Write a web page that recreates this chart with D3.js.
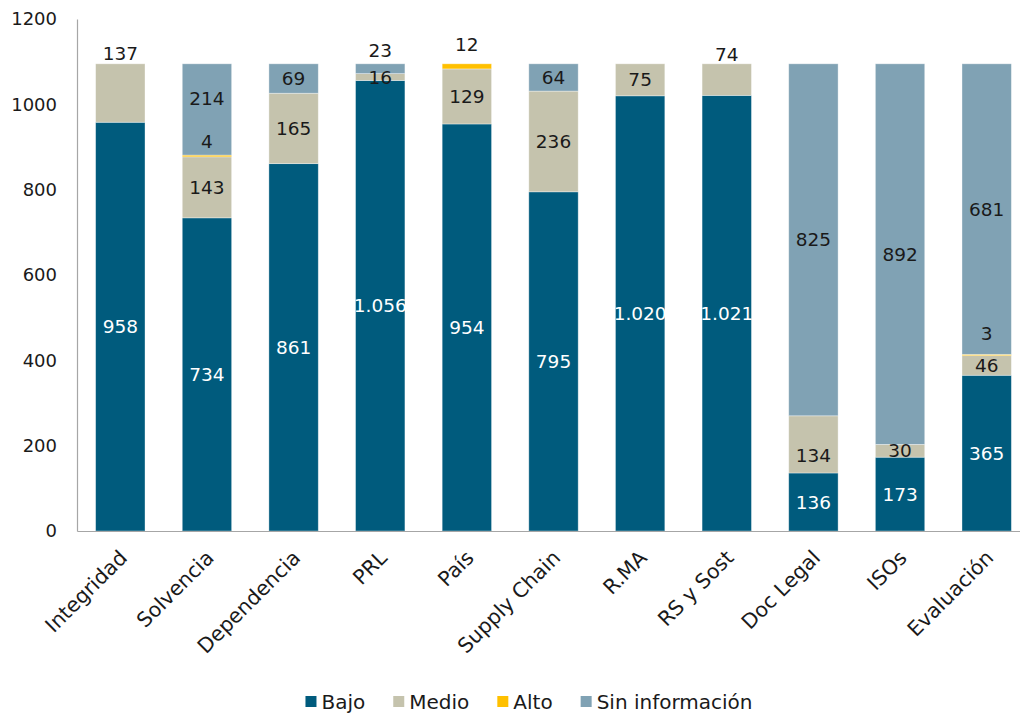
<!DOCTYPE html>
<html>
<head>
<meta charset="utf-8">
<script src="https://cdn.jsdelivr.net/npm/d3@7"></script>
<style>
  html, body { margin: 0; padding: 0; background: #ffffff; }
  svg { display: block; font-family: "DejaVu Sans", sans-serif; }
</style>
</head>
<body>
<svg id="chart" width="1020" height="715"></svg>
<script>
// Categories (x axis)
const categories = ["Integridad", "Solvencia", "Dependencia", "PRL", "País", "Supply Chain",
                    "R.MA", "RS y Sost", "Doc Legal", "ISOs", "Evaluación"];

// Series values, bottom to top
const bajo    = [958, 734, 861, 1056, 954, 795, 1020, 1021, 136, 173, 365];
const medio   = [137, 143, 165,   16, 129, 236,   75,   74, 134,  30,  46];
const alto    = [  0,   4,   0,    0,  12,   0,    0,    0,   0,   0,   3];
const sinInfo = [  0, 214,  69,   23,   0,  64,    0,    0, 825, 892, 681];

const seriesNames = ["Bajo", "Medio", "Alto", "Sin información"];
const seriesKeys  = ["bajo", "medio", "alto", "sin"];
const seriesColors = ["#005b7d", "#c5c3ad", "#ffc000", "#80a2b4"];
const labelColors  = ["#ffffff", "#1a1a1a", "#1a1a1a", "#1a1a1a"];

// Y axis ticks
const yTicks = [0, 200, 400, 600, 800, 1000, 1200];

// Labels that sit away from their segment centre (category, series, vertical shift in px)
const labelShifts = [
  ["Integridad", "medio", -40],
  ["Solvencia", "alto", -15],
  ["Solvencia", "sin", -11],
  ["PRL", "sin", -18],
  ["País", "alto", -22],
  ["RS y Sost", "medio", -25],
  ["Doc Legal", "medio", 11],
  ["Evaluación", "alto", -22]
];

const table = categories.map((c, i) => ({
  cat: c, bajo: bajo[i], medio: medio[i], alto: alto[i], sin: sinInfo[i]
}));

const svg = d3.select("#chart");
const margin = { left: 77, top: 19, bottom: 184 };
const plotRight = 1030;
const height = 715;
const y0 = height - margin.bottom;

const x = d3.scaleBand()
  .domain(categories)
  .range([margin.left, plotRight])
  .paddingInner(0.43)
  .paddingOuter(0.215);

const y = d3.scaleLinear()
  .domain([0, 1200])
  .range([y0, margin.top]);

const stack = d3.stack().keys(seriesKeys);
const stacked = stack(table);

const es = d3.formatLocale({ decimal: ",", thousands: ".", grouping: [3], currency: ["", "€"] });
const fmt = es.format(",d");

// Bars
const g = svg.append("g");
stacked.forEach((layer, si) => {
  g.selectAll(null)
    .data(layer.filter(d => d[1] - d[0] > 0))
    .enter().append("rect")
    .attr("x", d => x(d.data.cat))
    .attr("width", x.bandwidth())
    .attr("y", d => y(d[1]))
    .attr("height", d => y(d[0]) - y(d[1]))
    .attr("fill", seriesColors[si])
    .attr("stroke", "rgba(255,255,255,0.45)")
    .attr("stroke-width", 0.8);
});

// Axes
const yAxis = d3.axisLeft(y).tickValues(yTicks).tickSize(0).tickPadding(20).tickFormat(d3.format("d"));
const ya = svg.append("g").attr("transform", `translate(${margin.left},0)`).call(yAxis);
ya.select(".domain").attr("stroke", "#a6a6a6").attr("stroke-width", 1.2);
ya.selectAll("text").attr("font-size", 18).attr("fill", "#1a1a1a").attr("font-family", "DejaVu Sans");

const xAxis = d3.axisBottom(x).tickSize(0).tickPadding(0);
const xa = svg.append("g").attr("transform", `translate(0,${y0})`).call(xAxis);
xa.select(".domain").attr("stroke", "#a6a6a6").attr("stroke-width", 1.2);
xa.selectAll("text")
  .attr("font-size", 20.5)
  .attr("fill", "#1a1a1a")
  .attr("font-family", "DejaVu Sans")
  .attr("text-anchor", "end")
  .attr("dy", "0.35em")
  .attr("y", 0)
  .attr("transform", "translate(3,23) rotate(-45)");

// Value labels
const shiftOf = (cat, key) => {
  const s = labelShifts.find(r => r[0] === cat && r[1] === key);
  return s ? s[2] : 0;
};
stacked.forEach((layer, si) => {
  const key = seriesKeys[si];
  g.selectAll(null)
    .data(layer.filter(d => d[1] - d[0] > 0))
    .enter().append("text")
    .attr("x", d => x(d.data.cat) + x.bandwidth() / 2)
    .attr("y", d => (y(d[0]) + y(d[1])) / 2 + shiftOf(d.data.cat, key))
    .attr("dy", "0.36em")
    .attr("text-anchor", "middle")
    .attr("font-size", 18.5)
    .attr("fill", labelColors[si])
    .text(d => fmt(d[1] - d[0]));
});

// Legend
const legend = svg.append("g").attr("transform", `translate(0,702)`);
const items = legend.selectAll("g").data(seriesNames).enter().append("g");
items.append("rect")
  .attr("width", 11).attr("height", 11).attr("y", -6)
  .attr("fill", (d, i) => seriesColors[i]);
items.append("text")
  .attr("x", 16).attr("dy", "0.36em")
  .attr("font-size", 20).attr("fill", "#1a1a1a")
  .text(d => d);
let pos = 0;
const widths = [];
items.each(function() { widths.push(this.getBBox().width); });
const gap = 28;
const total = d3.sum(widths) + gap * (widths.length - 1);
pos = 529 - total / 2;
items.attr("transform", (d, i) => {
  const t = `translate(${pos},0)`;
  pos += widths[i] + gap;
  return t;
});
</script>
</body>
</html>
